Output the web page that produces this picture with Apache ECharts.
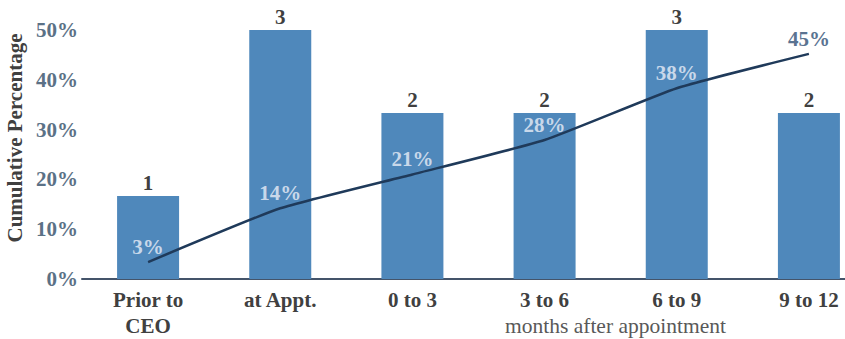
<!DOCTYPE html>
<html>
<head>
<meta charset="utf-8">
<script src="https://cdn.jsdelivr.net/npm/echarts@6/dist/echarts.min.js"></script>
<style>
  html, body { margin: 0; padding: 0; background: #fff; }
  #main { width: 845px; height: 339px; }
</style>
</head>
<body>
<div id="main"></div>
<script>
var categories = ['Prior to\nCEO', 'at Appt.', '0 to 3', '3 to 6', '6 to 9', '9 to 12'];
var counts = [1, 3, 2, 2, 3, 2];
var cumulative = [3.4, 14.2, 21, 27.9, 38.3, 45.2];
var yTicks = [0, 10, 20, 30, 40, 50];

var serif = '"Liberation Serif", "DejaVu Serif", serif';

var chart = echarts.init(document.getElementById('main'), null, { renderer: 'svg' });

// last point sits outside the bars, so its label is darker
var lineData = cumulative.map(function (v, i) {
    return {
        value: v,
        label: { color: i === cumulative.length - 1 ? '#5a7391' : '#c9d8ea' }
    };
});

var option = {
    animation: false,
    grid: { left: 82, top: 30, width: 793, bottom: 60, containLabel: false, outerBoundsMode: 'none' },
    xAxis: {
        type: 'category',
        data: categories,
        axisLine: { lineStyle: { color: '#44546a', width: 2 } },
        axisTick: { show: false },
        axisLabel: {
            interval: 0,
            margin: 8,
            fontFamily: serif,
            fontWeight: 'bold',
            fontSize: 21,
            lineHeight: 26,
            color: '#404040'
        }
    },
    yAxis: [
        {
            type: 'value',
            min: yTicks[0],
            max: yTicks[yTicks.length - 1],
            interval: 10,
            splitLine: { show: false },
            axisLine: { show: false },
            axisTick: { show: false },
            axisLabel: {
                margin: 4,
                formatter: '{value}%',
                fontFamily: serif,
                fontWeight: 'bold',
                fontSize: 21,
                color: '#5b7186'
            },
            name: 'Cumulative Percentage',
            nameLocation: 'middle',
            nameGap: 57,
            nameTextStyle: {
                fontFamily: serif,
                fontWeight: 'bold',
                fontSize: 21,
                color: '#404040',
                padding: [0, 0, 0, 33]
            }
        },
        {
            type: 'value',
            min: 0,
            max: 3,
            show: false,
            splitLine: { show: false }
        }
    ],
    graphic: [{
        type: 'text',
        left: 505,
        top: 315,
        style: {
            text: 'months after appointment',
            font: '21.5px ' + serif,
            fill: '#595959'
        }
    }],
    series: [
        {
            name: 'count',
            type: 'bar',
            yAxisIndex: 1,
            barWidth: 62,
            data: counts,
            itemStyle: { color: '#4f88bb' },
            label: {
                show: true,
                position: 'top',
                distance: 3,
                fontFamily: serif,
                fontWeight: 'bold',
                fontSize: 21,
                color: '#404040'
            }
        },
        {
            name: 'cumulative',
            type: 'line',
            yAxisIndex: 0,
            data: lineData,
            smooth: 0.15,
            symbol: 'circle',
            symbolSize: 1,
            showSymbol: true,
            itemStyle: { color: 'rgba(0,0,0,0)' },
            lineStyle: { color: '#1f3a5a', width: 2.5 },
            label: {
                show: true,
                position: 'top',
                distance: 4,
                fontFamily: serif,
                fontWeight: 'bold',
                fontSize: 21,
                formatter: function (p) { return Math.round(p.value) + '%'; }
            }
        }
    ]
};

chart.setOption(option);
</script>
</body>
</html>
